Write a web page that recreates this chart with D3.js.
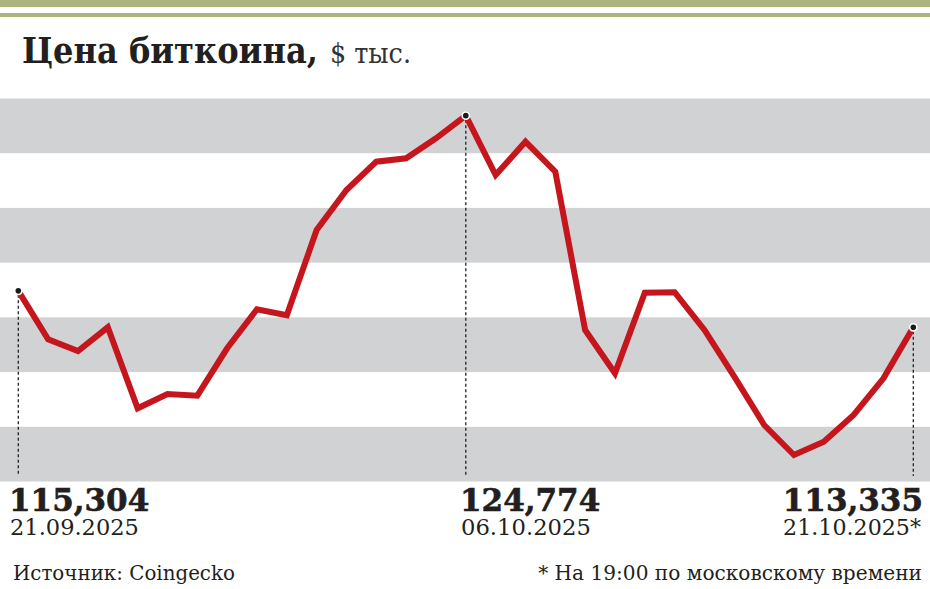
<!DOCTYPE html>
<html><head><meta charset="utf-8">
<script src="https://cdn.jsdelivr.net/npm/d3@7"></script>
<style>body{margin:0;background:#fff}svg{display:block}</style>
</head><body>
<svg id="c" width="930" height="589"></svg>
<script>
const dates = ["21.09.2025","22.09.2025","23.09.2025","24.09.2025","25.09.2025","26.09.2025","27.09.2025","28.09.2025","29.09.2025","30.09.2025",
"01.10.2025","02.10.2025","03.10.2025","04.10.2025","05.10.2025","06.10.2025","07.10.2025","08.10.2025","09.10.2025","10.10.2025",
"11.10.2025","12.10.2025","13.10.2025","14.10.2025","15.10.2025","16.10.2025","17.10.2025","18.10.2025","19.10.2025","20.10.2025","21.10.2025"];
const prices = [115304,112686,112053,113334,108956,109729,109637,112199,114307,113983,
118593,120755,122285,122468,123549,124774,121566,123366,121744,113188,
110848,115204,115230,113188,110664,108054,106432,107151,108594,110578,113335];
const bandEdges = [105000,107957,110914,113871,116829,119786,122743,125700];
const annotIdx = [0,15,30];
const annotValues = ["115,304","124,774","113,335"];
const annotDates = ["21.09.2025","06.10.2025","21.10.2025*"];
const title = "Цена биткоина,";
const unit = "$ тыс.";
const source = "Источник: Coingecko";
const note = "* На 19:00 по московскому времени";

const svg = d3.select("#c");
const parse = d3.timeParse("%d.%m.%Y");
const data = dates.map((d,i)=>({date:parse(d), v:prices[i]}));
const x = d3.scaleTime().domain(d3.extent(data,d=>d.date)).range([18.3,913.3]);
const y = d3.scaleLinear().domain([105000,125700]).range([481.5,98.5]);
const ink = "#231f20";
const font = "DejaVu Serif";
const fontC = "'DejaVu Serif Condensed', 'DejaVu Serif'";

// top stripes
svg.append("rect").attr("x",0).attr("y",0).attr("width",930).attr("height",7).attr("fill","#adb57e");
svg.append("rect").attr("x",0).attr("y",13).attr("width",930).attr("height",4).attr("fill","#adb57e");

// bands
const bands = d3.pairs(bandEdges).filter((p,i)=>i%2===0);
svg.append("g").selectAll("rect").data(bands).join("rect")
  .attr("x",0).attr("width",930)
  .attr("y",d=>y(d[1])).attr("height",d=>y(d[0])-y(d[1]))
  .attr("fill","#d1d2d4");

function fit(sel, w){
  const n = sel.node(); const fs = parseFloat(sel.attr("font-size"));
  const cur = n.getComputedTextLength();
  sel.attr("font-size", fs*w/cur);
  return sel;
}

// title
fit(svg.append("text").attr("x",22).attr("y",63).attr("font-family",fontC).attr("font-stretch","condensed").attr("font-weight","bold")
  .attr("font-size",31).attr("fill",ink).text(title),296);
fit(svg.append("text").attr("x",330).attr("y",63).attr("font-family",fontC).attr("font-stretch","condensed").attr("font-weight","normal")
  .attr("font-size",26).attr("fill","#333").text(unit),81);

// dashed droplines
svg.append("g").selectAll("line").data(annotIdx).join("line")
  .attr("x1",i=>x(data[i].date)).attr("x2",i=>x(data[i].date))
  .attr("y1",i=>y(data[i].v)+4).attr("y2",476)
  .attr("stroke","#222").attr("stroke-width",1.3).attr("stroke-dasharray","3,2.5");

// line
svg.append("path").datum(data)
  .attr("d", d3.line().x(d=>x(d.date)).y(d=>y(d.v)))
  .attr("fill","none").attr("stroke","#c4161c").attr("stroke-width",6)
  .attr("stroke-linejoin","miter").attr("stroke-linecap","butt");

// dots
svg.append("g").selectAll("circle").data(annotIdx).join("circle")
  .attr("cx",i=>x(data[i].date)).attr("cy",i=>y(data[i].v))
  .attr("r",3.6).attr("fill","#1a1a1a").attr("stroke","#fff").attr("stroke-width",1.6);

// annotations
const valPos = [{x:9,a:"start"},{x:460,a:"start"},{x:923,a:"end"}];
const datePos = [{x:10,a:"start",w:129},{x:461,a:"start",w:130},{x:921,a:"end",w:138}];
annotIdx.forEach((idx,k)=>{
  svg.append("text").attr("x",valPos[k].x).attr("y",511).attr("text-anchor",valPos[k].a)
    .attr("font-family",font).attr("font-weight","bold").attr("font-size",31).attr("fill",ink)
    .attr("stroke",ink).attr("stroke-width",0.6)
    .text(annotValues[k]);
  fit(svg.append("text").attr("x",datePos[k].x).attr("y",534.5).attr("text-anchor",datePos[k].a)
    .attr("font-family",font).attr("font-size",23).attr("fill",ink)
    .text(annotDates[k]), datePos[k].w);
});

// footer
fit(svg.append("text").attr("x",13).attr("y",580).attr("font-family",font).attr("font-size",18)
  .attr("fill",ink).text(source),222);
fit(svg.append("text").attr("x",922).attr("y",580).attr("text-anchor","end").attr("font-family",font).attr("font-size",18)
  .attr("fill",ink).text(note),384);
</script>
</body></html>
